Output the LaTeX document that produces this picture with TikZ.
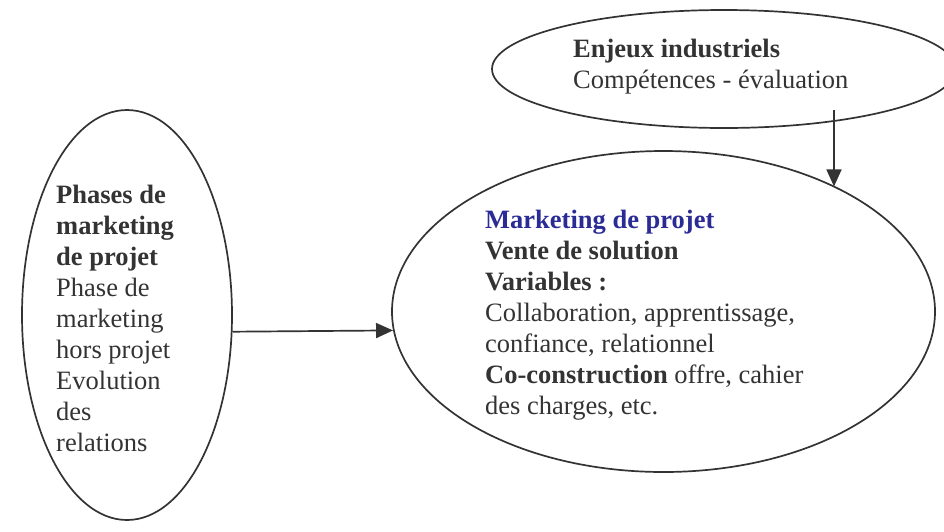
\documentclass[tikz,border=0pt]{standalone}
\usepackage{fontspec}
\setmainfont{Liberation Serif}
\usetikzlibrary{shapes.geometric,arrows.meta}
\definecolor{ink}{RGB}{51,51,51}
\definecolor{titleblue}{RGB}{43,43,150}
\tikzset{
  oval/.style={ellipse, draw=ink, line width=1.7pt, inner sep=0pt},
  txt/.style={anchor=base west, inner sep=0pt, align=left, text=ink,
    font=\fontsize{26.5}{31}\selectfont},
  arr/.style={draw=ink, line width=1.7pt, -{Triangle[length=17pt,width=15pt]}}
}
\begin{document}
\begin{tikzpicture}[x=1pt,y=-1pt]
\useasboundingbox (0,0) rectangle (944,531);
\clip (0,0) rectangle (944,531);
\node[oval, minimum width=464pt, minimum height=118pt] (enjeux) at (724,69) {};
\node[oval, minimum width=210pt, minimum height=410pt] (phases) at (127,315) {};
\node[oval, minimum width=543pt, minimum height=321pt] (marketing) at (663.5,311.5) {};
\node[txt] (enjeuxtxt) at (573,88) {\textbf{Enjeux industriels}\\Compétences - évaluation};
\node[txt] (phasestxt) at (56,451) {\textbf{Phases de}\\\textbf{marketing}\\\textbf{de projet}\\Phase de\\marketing\\hors projet\\Evolution\\des\\relations};
\node[txt] (marketingtxt) at (485,414) {\textbf{\color{titleblue}Marketing de projet}\\\textbf{Vente de solution}\\\textbf{Variables :}\\Collaboration, apprentissage,\\confiance, relationnel\\\textbf{Co-construction} offre, cahier\\des charges, etc.};
\coordinate (vstart) at (834,110);
\draw[arr] (vstart) -- (vstart |- marketing.36.2);
\draw[arr] (phases.-9.23) -- (marketing.184.35);
\end{tikzpicture}
\end{document}
